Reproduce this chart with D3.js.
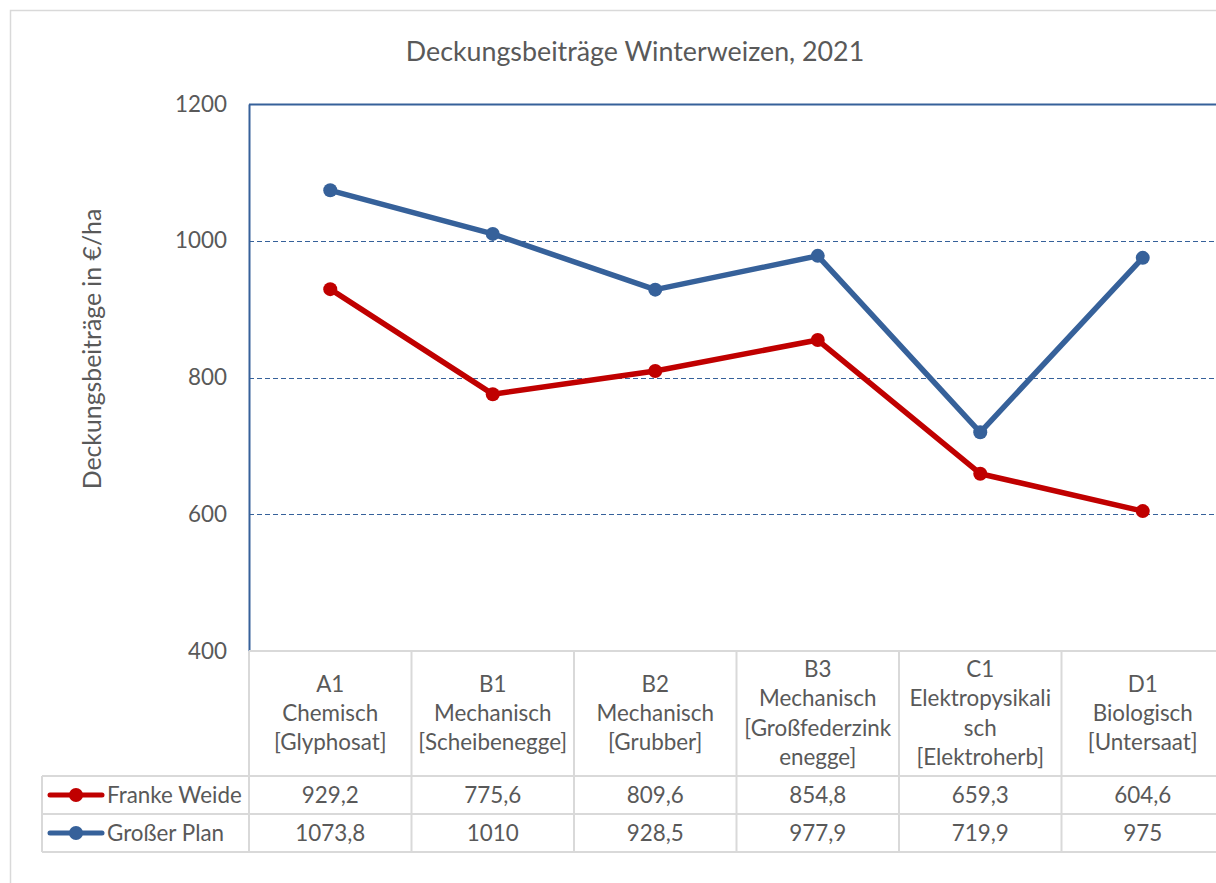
<!DOCTYPE html>
<html>
<head>
<meta charset="utf-8">
<script src="https://cdn.jsdelivr.net/npm/d3@7"></script>
<style>
  html, body { margin: 0; padding: 0; background: #fff; }
  svg { display: block; }
  text { font-family: Lato, "Open Sans", sans-serif; fill: #595959; }
</style>
</head>
<body>
<svg id="chart" width="1216" height="883"></svg>
<script>
// Category labels (one entry per line of the table header cell)
const categories = [
  ["A1", "Chemisch", "[Glyphosat]"],
  ["B1", "Mechanisch", "[Scheibenegge]"],
  ["B2", "Mechanisch", "[Grubber]"],
  ["B3", "Mechanisch", "[Großfederzink", "enegge]"],
  ["C1", "Elektropysikali", "sch", "[Elektroherb]"],
  ["D1", "Biologisch", "[Untersaat]"]
];
const seriesNames = ["Franke Weide", "Großer Plan"];
const frankeWeide = [929.2, 775.6, 809.6, 854.8, 659.3, 604.6];
const grosserPlan = [1073.8, 1010, 928.5, 977.9, 719.9, 975];
const yTicks = [400, 600, 800, 1000, 1200];
const colors = ["#c00000", "#36619a"];

const title = "Deckungsbeiträge Winterweizen, 2021";
const yLabel = "Deckungsbeiträge in €/ha";

const fs = 22.4; // body text size

const svg = d3.select("#chart");

// chart frame
svg.append("rect")
  .attr("x", 10.5).attr("y", 10.5)
  .attr("width", 1300).attr("height", 1000)
  .attr("fill", "#fff").attr("stroke", "#d9d9d9").attr("stroke-width", 1.5);

const plot = { left: 249, top: 104, bottom: 651 };
const bandW = 162.5;
const x = d3.scaleBand()
  .domain(d3.range(categories.length))
  .range([plot.left, plot.left + bandW * categories.length])
  .padding(0);
const y = d3.scaleLinear().domain([400, 1200]).range([plot.bottom, plot.top]);

// title
svg.append("text")
  .attr("x", 635).attr("y", 61)
  .attr("text-anchor", "middle")
  .attr("font-size", 26.8)
  .text(title);

// y axis label
svg.append("text")
  .attr("transform", `translate(101,349) rotate(-90)`)
  .attr("text-anchor", "middle")
  .attr("font-size", 24.8)
  .text(yLabel);

// gridlines
const grid = svg.append("g");
grid.selectAll("line")
  .data(yTicks.filter(t => t > 400))
  .join("line")
  .attr("x1", plot.left).attr("x2", 1216)
  .attr("y1", d => Math.round(y(d)) + 0.5).attr("y2", d => Math.round(y(d)) + 0.5)
  .attr("stroke", "#36619a")
  .attr("stroke-width", d => d === 1200 ? 2 : 1.2)
  .attr("stroke-dasharray", d => d === 1200 ? null : "5,3");

// y axis with tick labels
const yAxis = d3.axisLeft(y).tickValues(yTicks).tickFormat(d3.format("d")).tickSize(0).tickPadding(22);
const yg = svg.append("g")
  .attr("transform", `translate(${plot.left},0)`)
  .call(yAxis);
yg.select(".domain").attr("stroke", "#36619a").attr("stroke-width", 2);
yg.selectAll(".tick text")
  .attr("font-size", fs)
  .attr("font-family", "Lato, 'Open Sans', sans-serif")
  .attr("fill", "#595959");

// data table
const tbl = svg.append("g");
const rowTop = [651, 776, 814, 852];
const tableLeft = 42;
const lineColor = "#d9d9d9";
// horizontal rules
tbl.append("line").attr("x1", plot.left).attr("x2", 1216).attr("y1", rowTop[0]).attr("y2", rowTop[0])
  .attr("stroke", lineColor).attr("stroke-width", 2);
[1, 2, 3].forEach(i => {
  tbl.append("line").attr("x1", tableLeft).attr("x2", 1216).attr("y1", rowTop[i]).attr("y2", rowTop[i])
    .attr("stroke", lineColor).attr("stroke-width", 2);
});
// vertical rules
tbl.append("line").attr("x1", tableLeft).attr("x2", tableLeft).attr("y1", rowTop[1]).attr("y2", rowTop[3])
  .attr("stroke", lineColor).attr("stroke-width", 2);
d3.range(categories.length + 1).forEach(i => {
  const xx = plot.left + i * bandW;
  tbl.append("line").attr("x1", xx).attr("x2", xx).attr("y1", rowTop[0]).attr("y2", rowTop[3])
    .attr("stroke", lineColor).attr("stroke-width", 2);
});

// header labels
const lh = 29.3;
categories.forEach((lines, i) => {
  const cx = x(i) + x.bandwidth() / 2;
  const cy = (rowTop[0] + rowTop[1]) / 2;
  const t = tbl.append("text")
    .attr("text-anchor", "middle")
    .attr("font-size", fs);
  lines.forEach((ln, k) => {
    t.append("tspan")
      .attr("x", cx)
      .attr("y", cy + (k - (lines.length - 1) / 2) * lh + 7.5)
      .text(ln);
  });
});

// value rows with legend keys
const fmt = v => String(v).replace(".", ",");
const allSeries = [frankeWeide, grosserPlan];
allSeries.forEach((vals, s) => {
  const cy = (rowTop[s + 1] + rowTop[s + 2]) / 2;
  tbl.append("line")
    .attr("x1", 50).attr("x2", 102).attr("y1", cy).attr("y2", cy)
    .attr("stroke", colors[s]).attr("stroke-width", 5).attr("stroke-linecap", "round");
  tbl.append("circle").attr("cx", 76).attr("cy", cy).attr("r", 7).attr("fill", colors[s]);
  tbl.append("text")
    .attr("x", 107).attr("y", cy + 7.5)
    .attr("font-size", fs)
    .text(seriesNames[s]);
  vals.forEach((v, i) => {
    tbl.append("text")
      .attr("x", x(i) + x.bandwidth() / 2).attr("y", cy + 7.5)
      .attr("text-anchor", "middle")
      .attr("font-size", fs)
      .text(fmt(v));
  });
});

// series lines and markers
const line = d3.line()
  .x((d, i) => x(i) + x.bandwidth() / 2)
  .y(d => y(d));
allSeries.forEach((vals, s) => {
  svg.append("path")
    .datum(vals)
    .attr("d", line)
    .attr("fill", "none")
    .attr("stroke", colors[s])
    .attr("stroke-width", 5.5)
    .attr("stroke-linejoin", "round")
    .attr("stroke-linecap", "round");
  svg.append("g").selectAll("circle")
    .data(vals)
    .join("circle")
    .attr("cx", (d, i) => x(i) + x.bandwidth() / 2)
    .attr("cy", d => y(d))
    .attr("r", 7)
    .attr("fill", colors[s]);
});
</script>
</body>
</html>
